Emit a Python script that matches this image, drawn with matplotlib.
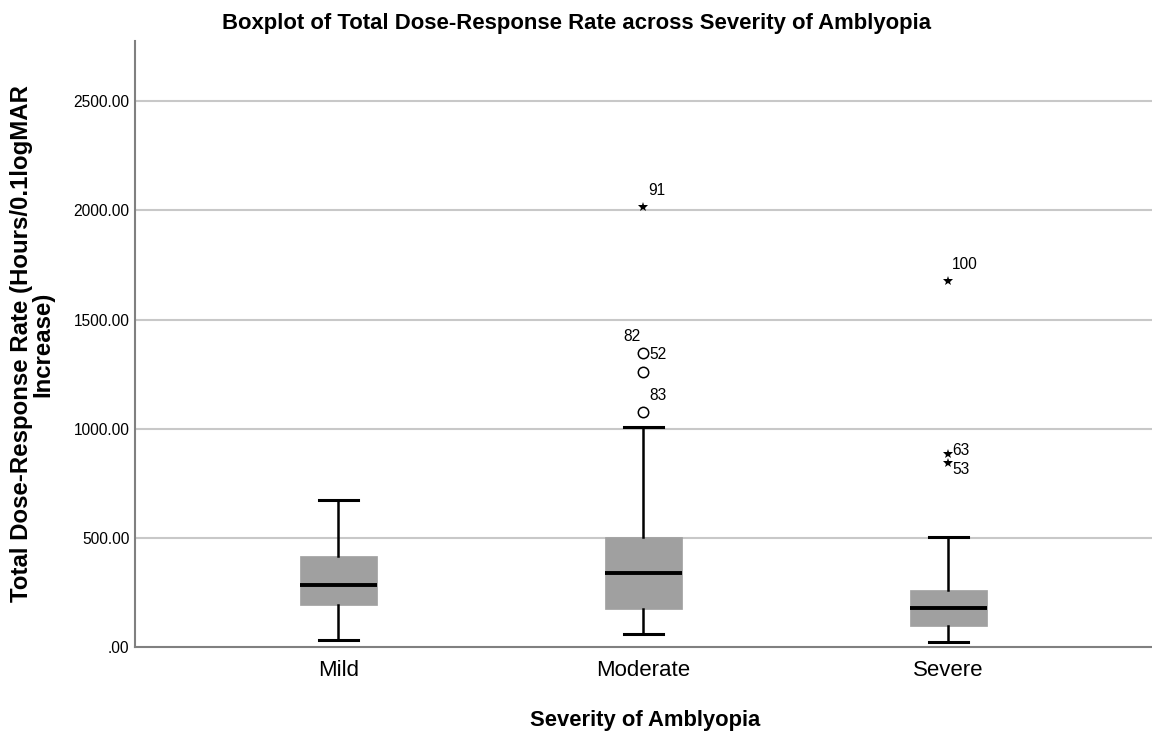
import matplotlib
matplotlib.use("Agg")
import matplotlib.pyplot as plt

plt.rcParams['font.family'] = ['Liberation Sans', 'DejaVu Sans']

categories = ["Mild", "Moderate", "Severe"]
whisker_low = [31, 58, 24]
q1 = [194, 174, 96]
median = [282, 337, 180]
q3 = [418, 502, 262]
whisker_high = [673, 1009, 505]

# outliers
circle_cat = [1, 1, 1]
circle_val = [1347, 1260, 1077]
star_cat = [1, 2, 2, 2]
star_val = [2016, 1677, 886, 844]

label_text = ["91", "82", "52", "83", "100", "63", "53"]
label_cat = [1, 1, 1, 1, 2, 2, 2]
label_val = [2016, 1347, 1347, 1077, 1677, 886, 844]
label_dx = [5, -20, 6, 6, 3, 4, 4]
label_dy = [16, 16, -2, 16, 16, 3, -7]

yticks = [0, 500, 1000, 1500, 2000, 2500]
ytick_labels = [".00", "500.00", "1000.00", "1500.00", "2000.00", "2500.00"]

fig = plt.figure(figsize=(11.52, 7.34), dpi=100)
ax = fig.add_axes([135/1152, 87/734, 1020/1152, 606/734])

stats = []
for i, c in enumerate(categories):
    stats.append(dict(label=c, whislo=whisker_low[i], q1=q1[i], med=median[i],
                      q3=q3[i], whishi=whisker_high[i], fliers=[]))

positions = list(range(len(categories)))
for y in yticks[1:]:
    ax.axhline(y, color="#c8c8c8", lw=1.5, zorder=0)

ax.bxp(stats, positions=positions, widths=0.25, patch_artist=True, showfliers=False,
       boxprops=dict(facecolor="#a0a0a0", edgecolor="#a0a0a0", lw=0.5),
       medianprops=dict(color="black", lw=2.8),
       whiskerprops=dict(color="black", lw=1.8),
       capprops=dict(color="black", lw=2.2),
       capwidths=0.125, zorder=2)

ax.plot(circle_cat, circle_val, linestyle="none", marker="o", markersize=7.5,
        markerfacecolor="white", markeredgecolor="black", markeredgewidth=1.1, zorder=3)
ax.plot(star_cat, star_val, linestyle="none", marker="*", markersize=7.5,
        color="black", markeredgewidth=0, zorder=3)

for t, c, v, dx, dy in zip(label_text, label_cat, label_val, label_dx, label_dy):
    ax.annotate(t, (c, v), xytext=(dx * 0.72, dy * 0.72), textcoords="offset points",
                fontsize=11.2, ha="left", va="center", color="black")

ax.set_xlim(-0.667, 2.677)
ax.set_ylim(0, 2776)
ax.set_yticks(yticks)
ax.set_yticklabels(ytick_labels, fontsize=11.2)
ax.set_xticks(positions)
ax.set_xticklabels(categories, fontsize=16)
ax.tick_params(axis="both", length=0, pad=4)
ax.tick_params(axis="x", pad=9)

for s in ["top", "right"]:
    ax.spines[s].set_visible(False)
ax.spines["left"].set_color("#808080")
ax.spines["bottom"].set_color("#808080")
ax.spines["left"].set_linewidth(1.5)
ax.spines["bottom"].set_linewidth(1.5)

ax.set_xlabel("Severity of Amblyopia", fontsize=15.8, fontweight="bold", labelpad=21)
ax.set_ylabel("Total Dose-Response Rate (Hours/0.1logMAR\nIncrease)", fontsize=17.3,
              fontweight="bold", linespacing=0.9)
ax.yaxis.set_label_coords(-0.079, 0.5)

fig.text(577/1152, 1 - 23/734, "Boxplot of Total Dose-Response Rate across Severity of Amblyopia",
         ha="center", va="center", fontsize=15.9, fontweight="bold")

fig.savefig("out.png", dpi=100)
